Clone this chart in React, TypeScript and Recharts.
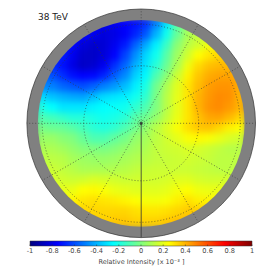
import { Area, AreaChart, ReferenceArea, ReferenceDot, ReferenceLine, Scatter, ScatterChart, XAxis, YAxis } from "recharts"

const WIDTH = 266
const HEIGHT = 271
const CENTER_X = 141.2
const CENTER_Y = 123.3
const FONT = "DejaVu Sans"

// sky map cells (px offset from map centre, value in 10^-3)
const CELL = 10.4
const colOffsets = [-99, -89, -78, -68, -58, -47, -37, -26, -16, -5, 5, 15, 26, 36, 47, 57, 68, 78, 88, 99]
const rowOffsets = [99, 89, 78, 68, 57, 47, 37, 26, 16, 5, -5, -15, -26, -36, -47, -57, -67, -78, -88, -99]
const intensity = [
  [-0.75, -0.75, -0.75, -0.75, -0.75, -0.75, -0.78, -0.78, -0.75, -0.72, -0.66, -0.5, -0.3, -0.08, 0.05, 0.1, 0.12, 0.12, 0.12, 0.12],
  [-0.72, -0.72, -0.72, -0.72, -0.75, -0.78, -0.82, -0.8, -0.76, -0.68, -0.58, -0.4, -0.22, -0.05, 0.08, 0.13, 0.16, 0.18, 0.18, 0.18],
  [-0.7, -0.7, -0.7, -0.74, -0.82, -0.85, -0.83, -0.78, -0.7, -0.56, -0.42, -0.28, -0.14, 0.02, 0.11, 0.16, 0.22, 0.25, 0.25, 0.25],
  [-0.68, -0.68, -0.7, -0.78, -0.85, -0.86, -0.82, -0.75, -0.62, -0.47, -0.33, -0.22, -0.08, 0.06, 0.16, 0.25, 0.3, 0.33, 0.33, 0.33],
  [-0.62, -0.66, -0.72, -0.8, -0.86, -0.84, -0.78, -0.66, -0.55, -0.4, -0.3, -0.17, -0.04, 0.09, 0.22, 0.32, 0.37, 0.39, 0.39, 0.37],
  [-0.55, -0.6, -0.66, -0.72, -0.75, -0.74, -0.68, -0.57, -0.48, -0.34, -0.26, -0.1, 0.02, 0.15, 0.27, 0.36, 0.41, 0.43, 0.43, 0.4],
  [-0.48, -0.5, -0.55, -0.58, -0.6, -0.56, -0.5, -0.45, -0.38, -0.28, -0.2, -0.03, 0.09, 0.19, 0.3, 0.38, 0.44, 0.46, 0.46, 0.41],
  [-0.32, -0.37, -0.4, -0.42, -0.43, -0.38, -0.32, -0.3, -0.28, -0.22, -0.16, -0.01, 0.11, 0.2, 0.3, 0.4, 0.45, 0.48, 0.47, 0.4],
  [-0.2, -0.25, -0.3, -0.3, -0.3, -0.27, -0.25, -0.24, -0.22, -0.16, -0.1, 0, 0.11, 0.2, 0.3, 0.4, 0.46, 0.48, 0.45, 0.4],
  [-0.1, -0.12, -0.15, -0.18, -0.18, -0.2, -0.22, -0.2, -0.17, -0.08, -0.03, 0.04, 0.13, 0.21, 0.3, 0.37, 0.42, 0.43, 0.39, 0.33],
  [-0.02, -0.04, -0.05, -0.08, -0.12, -0.17, -0.19, -0.16, -0.1, -0.03, 0.03, 0.11, 0.18, 0.24, 0.31, 0.36, 0.37, 0.33, 0.28, 0.25],
  [0.05, 0.05, 0.02, 0, -0.05, -0.1, -0.1, -0.06, -0.02, 0.04, 0.07, 0.12, 0.16, 0.2, 0.24, 0.26, 0.24, 0.21, 0.18, 0.16],
  [0.09, 0.09, 0.07, 0.04, 0.01, 0, -0.01, 0.01, 0.04, 0.07, 0.09, 0.13, 0.15, 0.16, 0.18, 0.17, 0.15, 0.13, 0.11, 0.11],
  [0.12, 0.12, 0.11, 0.08, 0.06, 0.05, 0.05, 0.06, 0.08, 0.1, 0.11, 0.13, 0.14, 0.15, 0.16, 0.15, 0.14, 0.12, 0.12, 0.12],
  [0.15, 0.15, 0.13, 0.11, 0.09, 0.09, 0.09, 0.1, 0.11, 0.13, 0.14, 0.15, 0.15, 0.15, 0.15, 0.14, 0.13, 0.12, 0.12, 0.12],
  [0.17, 0.17, 0.16, 0.15, 0.16, 0.18, 0.17, 0.16, 0.15, 0.16, 0.16, 0.16, 0.17, 0.19, 0.19, 0.17, 0.16, 0.16, 0.16, 0.16],
  [0.2, 0.2, 0.2, 0.21, 0.25, 0.26, 0.24, 0.21, 0.2, 0.19, 0.19, 0.19, 0.2, 0.23, 0.25, 0.22, 0.21, 0.21, 0.21, 0.21],
  [0.26, 0.26, 0.26, 0.27, 0.3, 0.31, 0.3, 0.29, 0.27, 0.25, 0.23, 0.23, 0.24, 0.28, 0.31, 0.28, 0.27, 0.26, 0.26, 0.26],
  [0.3, 0.3, 0.3, 0.31, 0.33, 0.33, 0.33, 0.33, 0.33, 0.31, 0.3, 0.3, 0.31, 0.33, 0.35, 0.35, 0.33, 0.31, 0.3, 0.3],
  [0.34, 0.34, 0.34, 0.34, 0.34, 0.34, 0.34, 0.36, 0.36, 0.34, 0.34, 0.34, 0.36, 0.38, 0.39, 0.39, 0.38, 0.36, 0.34, 0.34],
]

const gridRadii = [57.5, 99]
const spokeAngles = [0, 30, 60, 90, 120, 150, 210, 240, 270, 300, 330]
const colorbarTicks = [-1, -0.8, -0.6, -0.4, -0.2, 0, 0.2, 0.4, 0.6, 0.8, 1]
const colorbarData = [
  { v: -1, full: 1 },
  { v: 1, full: 1 },
]

// matplotlib jet, as value -> rgb
const jetStops: [number, number[]][] = [
  [-1, [0, 0, 127]],
  [-0.75, [0, 0, 255]],
  [-0.25, [0, 255, 255]],
  [0.25, [255, 255, 0]],
  [0.75, [255, 0, 0]],
  [1, [127, 0, 0]],
]

function jet(v: number) {
  for (let i = 1; i < jetStops.length; i++) {
    const [v0, c0] = jetStops[i - 1]
    const [v1, c1] = jetStops[i]
    if (v <= v1) {
      const t = Math.max(0, (v - v0) / (v1 - v0))
      return `rgb(${c0.map((c, k) => Math.round(c + (c1[k] - c) * t)).join(",")})`
    }
  }
  return "rgb(127,0,0)"
}

const cells = rowOffsets.flatMap((y, r) => colOffsets.map((x, c) => ({ x, y, v: intensity[r][c] })))

const layer = { position: "absolute", left: 0, top: 0, width: WIDTH, height: HEIGHT } as const
const xDomain = [-CENTER_X, WIDTH - CENTER_X]
const yDomain = [CENTER_Y - HEIGHT, CENTER_Y]

// hidden axes + an empty series, so the reference marks have scales to draw on
function Axes() {
  return [
    <XAxis key="x" type="number" dataKey="x" domain={xDomain} hide />,
    <YAxis key="y" type="number" dataKey="y" domain={yDomain} hide />,
    <Scatter key="s" data={cells} shape={() => null} isAnimationActive={false} />,
  ]
}

function HeatCell(props: any) {
  return (
    <rect
      x={props.cx - CELL / 2 - 0.5}
      y={props.cy - CELL / 2 - 0.5}
      width={CELL + 1}
      height={CELL + 1}
      fill={jet(props.payload.v)}
    />
  )
}

function ColorbarTick({ x, payload }: any) {
  return (
    <g>
      <line x1={x} x2={x} y1={246} y2={244.5} stroke="#333" strokeWidth={0.5} />
      <text x={x} y={252.5} textAnchor="middle" fontSize={6.6} fontFamily={FONT} fill="#444">
        {payload.value}
      </text>
    </g>
  )
}

export default function App() {
  const margin = { top: 0, right: 0, bottom: 0, left: 0 }
  return (
    <div style={{ ...layer, background: "#fff", fontFamily: FONT }}>
      <div style={layer}>
        <ScatterChart width={WIDTH} height={HEIGHT} margin={margin}>
          {Axes()}
          <ReferenceDot x={0} y={0} r={114.3} fill="#808080" stroke="#333" strokeWidth={0.7} />
        </ScatterChart>
      </div>

      <div style={{ ...layer, clipPath: `circle(103.4px at ${CENTER_X}px ${CENTER_Y}px)` }}>
        <div style={{ ...layer, filter: "blur(3px)" }}>
          <ScatterChart width={WIDTH} height={HEIGHT} margin={margin}>
            <XAxis type="number" dataKey="x" domain={xDomain} hide />
            <YAxis type="number" dataKey="y" domain={yDomain} hide />
            <Scatter data={cells} shape={HeatCell} isAnimationActive={false} />
          </ScatterChart>
        </div>
      </div>

      <div style={layer}>
        <ScatterChart width={WIDTH} height={HEIGHT} margin={margin}>
          {Axes()}
          {gridRadii.map((r) => (
            <ReferenceDot key={r} x={0} y={0} r={r} fill="none" stroke="#333" strokeWidth={0.7} strokeDasharray="0.9 2.1" />
          ))}
          {spokeAngles.map((a) => {
            const rad = (a * Math.PI) / 180
            return (
              <ReferenceLine
                key={a}
                segment={[
                  { x: 0, y: 0 },
                  { x: 114.3 * Math.sin(rad), y: 114.3 * Math.cos(rad) },
                ]}
                stroke="#333"
                strokeWidth={0.7}
                strokeDasharray="0.9 2.1"
              />
            )
          })}
          <ReferenceLine
            segment={[
              { x: 0, y: 0 },
              { x: 0, y: -114.3 },
            ]}
            stroke="#333"
            strokeWidth={0.8}
          />
          <ReferenceDot x={0} y={0} r={1.4} fill="none" stroke="#222" strokeWidth={0.6} />
          <text x={38} y={20} fontSize={9} fontFamily={FONT} fill="#222">
            38 TeV
          </text>
        </ScatterChart>
      </div>

      <div style={layer}>
        <AreaChart width={WIDTH} height={HEIGHT} data={colorbarData} margin={{ top: 241, right: 14, bottom: 0, left: 30 }}>
          <defs>
            <linearGradient id="jetBar" x1="0" x2="1" y1="0" y2="0">
              {jetStops.map(([v]) => (
                <stop key={v} offset={(v + 1) / 2} stopColor={jet(v)} />
              ))}
            </linearGradient>
          </defs>
          <XAxis
            type="number"
            dataKey="v"
            domain={[-1, 1]}
            ticks={colorbarTicks}
            interval={0}
            height={25}
            axisLine={false}
            tickLine={false}
            tick={ColorbarTick}
          />
          <YAxis type="number" domain={[0, 1]} hide />
          <Area dataKey="full" type="linear" stroke="none" fill="url(#jetBar)" fillOpacity={1} dot={false} activeDot={false} isAnimationActive={false} />
          <ReferenceArea x1={-1} x2={1} y1={0} y2={1} fill="none" stroke="#333" strokeWidth={0.5} />
          <text x={141.5} y={264} textAnchor="middle" fontSize={6.5} fontFamily={FONT} fill="#444">
            Relative Intensity [x 10⁻³ ]
          </text>
        </AreaChart>
      </div>
    </div>
  )
}
